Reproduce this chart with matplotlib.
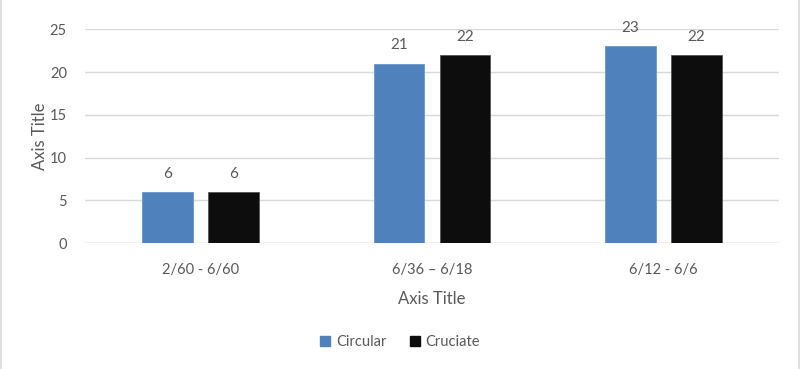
import matplotlib
matplotlib.use("Agg")
import matplotlib.pyplot as plt
import numpy as np
from matplotlib.patches import Patch
from matplotlib.lines import Line2D

categories = ["2/60 - 6/60", "6/36 \u2013 6/18", "6/12 - 6/6"]
circular = [6, 21, 23]
cruciate = [6, 22, 22]
series_names = ["Circular", "Cruciate"]
y_ticks = [0, 5, 10, 15, 20, 25]

plt.rcParams['font.family'] = ['Lato', 'DejaVu Sans']
txt = '#595959'
blue = '#4F81BD'
black = '#0D0D0D'

fig = plt.figure(figsize=(8, 3.69), dpi=100)
ax = fig.add_axes([0.10625, 0.3407, 0.8675, 0.5799])

x = np.arange(len(categories))
w = 0.22
off = 0.1427
b1 = ax.bar(x - off, circular, w, color=blue, edgecolor='#6a95c8', linewidth=0.6, zorder=3)
b2 = ax.bar(x + off, cruciate, w, color=black, edgecolor='#555555', linewidth=0.6, zorder=3)
for bars, vals in ((b1, circular), (b2, cruciate)):
    for r, v in zip(bars, vals):
        ax.annotate(str(v), (r.get_x() + r.get_width() / 2, v), xytext=(0, 8),
                    textcoords='offset points', ha='center', va='bottom',
                    fontsize=11, color=txt)

ax.set_xlim(-0.5, 2.5)
ax.set_ylim(0, 25)
ax.set_yticks(y_ticks)
ax.set_xticks(x)
ax.set_xticklabels(categories)
ax.yaxis.grid(True, color='#D9D9D9', linewidth=1, zorder=0)
for s in ax.spines.values():
    s.set_visible(False)
ax.axhline(0, color='#D9D9D9', linewidth=1, zorder=2)
ax.tick_params(axis='both', length=0, labelsize=10.5, labelcolor=txt)
ax.tick_params(axis='x', pad=14)
ax.tick_params(axis='y', pad=13)
ax.set_xlabel("Axis Title", fontsize=12, color=txt, labelpad=10)
ax.set_ylabel("Axis Title", fontsize=12, color=txt, labelpad=1)

handles = [Patch(facecolor=blue, edgecolor=blue), Patch(facecolor=black, edgecolor=black)]
fig.legend(handles, series_names, loc='center', bbox_to_anchor=(0.5, 1 - 342 / 369),
           ncol=2, frameon=False, fontsize=10.5, labelcolor=txt,
           handlelength=0.7, handleheight=0.7, handletextpad=0.4, columnspacing=1.6)

fig.add_artist(Line2D([0.0008, 0.0008], [0, 1], transform=fig.transFigure, color='#D9D9D9', linewidth=1.2))
fig.add_artist(Line2D([0.9985, 0.9985], [0, 1], transform=fig.transFigure, color='#D9D9D9', linewidth=1.2))

fig.savefig("out.png", dpi=100)
